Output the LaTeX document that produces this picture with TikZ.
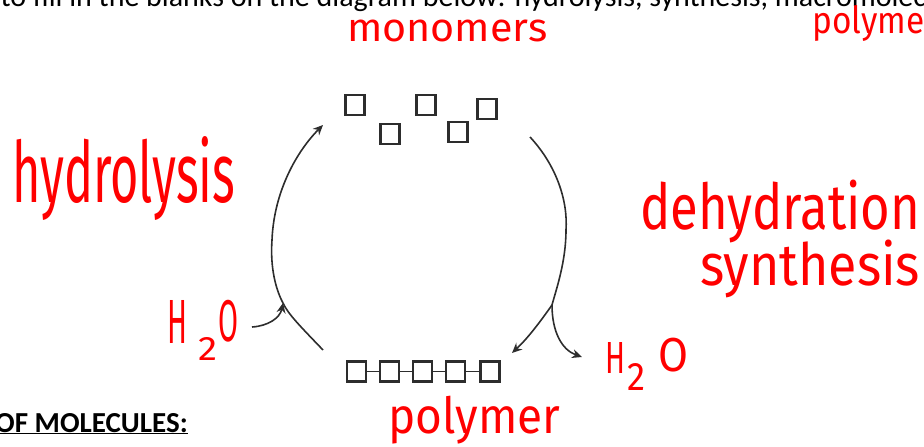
\documentclass[tikz,border=0pt]{standalone}
\usepackage{fontspec}
\usepackage{graphicx}
\setmainfont{Carlito}
\newfontfamily\hw{Fira Sans}
\usetikzlibrary{arrows.meta}
\definecolor{ink}{RGB}{255,0,0}
\definecolor{pen}{RGB}{45,45,45}
\tikzset{
  hand/.style={inner sep=0pt, text=ink, font=\hw},
  box/.style={draw=pen, line width=2.2pt, minimum width=19pt, minimum height=20pt, inner sep=0pt},
  arc/.style={draw=pen, line width=1.6pt},
  tip/.style={-{Stealth[length=10pt,width=9pt]}},
}
\begin{document}
\begin{tikzpicture}[x=1pt,y=-1pt]
\useasboundingbox (0,0) rectangle (924,447);
\clip (0,0) rectangle (924,447);
% cut-off instruction line
\node[anchor=base west, inner sep=0pt, font=\fontsize{30}{32}\selectfont] (instr) at (-25,6) {ls to fill in the blanks on the diagram below: hydrolysis, synthesis, macromolecule};
% heading at bottom left
\node[anchor=base west, inner sep=0pt, font=\bfseries\fontsize{29}{32}\selectfont] (head) at (-5,432) {\underline{OF MOLECULES:}};
% red handwriting
\node[hand, anchor=north west] (mono) at (347,20) {\resizebox*{200pt}{22pt}{monomers}};
\node[hand, anchor=north west] (polytop) at (812,5) {\resizebox*{112pt}{36pt}{polyme}};
\node[hand, anchor=north west] (polybot) at (388,396) {\resizebox*{172pt}{48pt}{polymer}};
\node[hand, anchor=north west] (hydro) at (12,136) {\resizebox*{223pt}{84pt}{hydrolysis}};
\node[hand, anchor=north west] (dehyd) at (640,180) {\resizebox*{280pt}{63pt}{dehydration}};
\node[hand, anchor=north west] (synth) at (700,240) {\resizebox*{220pt}{58pt}{synthesis}};
% H2O left
\node[hand, anchor=north west] (hl) at (167,300) {\resizebox*{20pt}{43pt}{H}};
\node[hand, anchor=north west] (tl) at (198,337) {\resizebox*{19pt}{23pt}{2}};
\node[hand, anchor=north west] (ol) at (218,300) {\resizebox*{20pt}{42pt}{O}};
% H2O right
\node[hand, anchor=north west] (hr) at (605,342) {\resizebox*{20pt}{31pt}{H}};
\node[hand, anchor=north west] (tr) at (627,363) {\resizebox*{18pt}{27pt}{2}};
\node[hand, anchor=north west] (or) at (658,338) {\resizebox*{30pt}{34pt}{O}};
% monomers
\node[box] (m1) at (355,105) {};
\node[box] (m2) at (390,134) {};
\node[box] (m3) at (426,105) {};
\node[box] (m4) at (458,132) {};
\node[box] (m5) at (487,109) {};
% polymer chain
\foreach \i/\x in {1/356.5,2/389.5,3/422.5,4/455.5,5/490}{
  \node[box] (p\i) at (\x,371.5) {};
}
\foreach \a/\b in {p1/p2,p2/p3,p3/p4,p4/p5}{
  \draw[pen, line width=1.5pt] (\a.east) -- (\b.west);
}
% cycle arcs
\coordinate (lb) at (323,350);
\coordinate (lj) at (283,303);
\coordinate (lm) at (272,240);
\coordinate (lt) at (323,125);
\coordinate (ls) at (252,327);
\draw[arc] (lb) .. controls (300,326) and (288,314) .. (lj);
\draw[arc, tip] (lj) .. controls (276,290) and (270,268) .. (lm) .. controls (274,190) and (298,150) .. (lt);
\draw[arc, tip] (ls) .. controls (268,326) and (280,318) .. (lj);
\coordinate (rt) at (530,137);
\coordinate (rm) at (566,230);
\coordinate (rj) at (552,305);
\coordinate (rp) at (512,353);
\coordinate (rw) at (582,357);
\draw[arc] (rt) .. controls (556,165) and (568,200) .. (rm) .. controls (566,262) and (556,290) .. (rj);
\draw[arc, tip] (rj) .. controls (540,322) and (528,338) .. (rp);
\draw[arc, tip] (rj) .. controls (552,332) and (562,350) .. (rw);
\end{tikzpicture}
\end{document}
